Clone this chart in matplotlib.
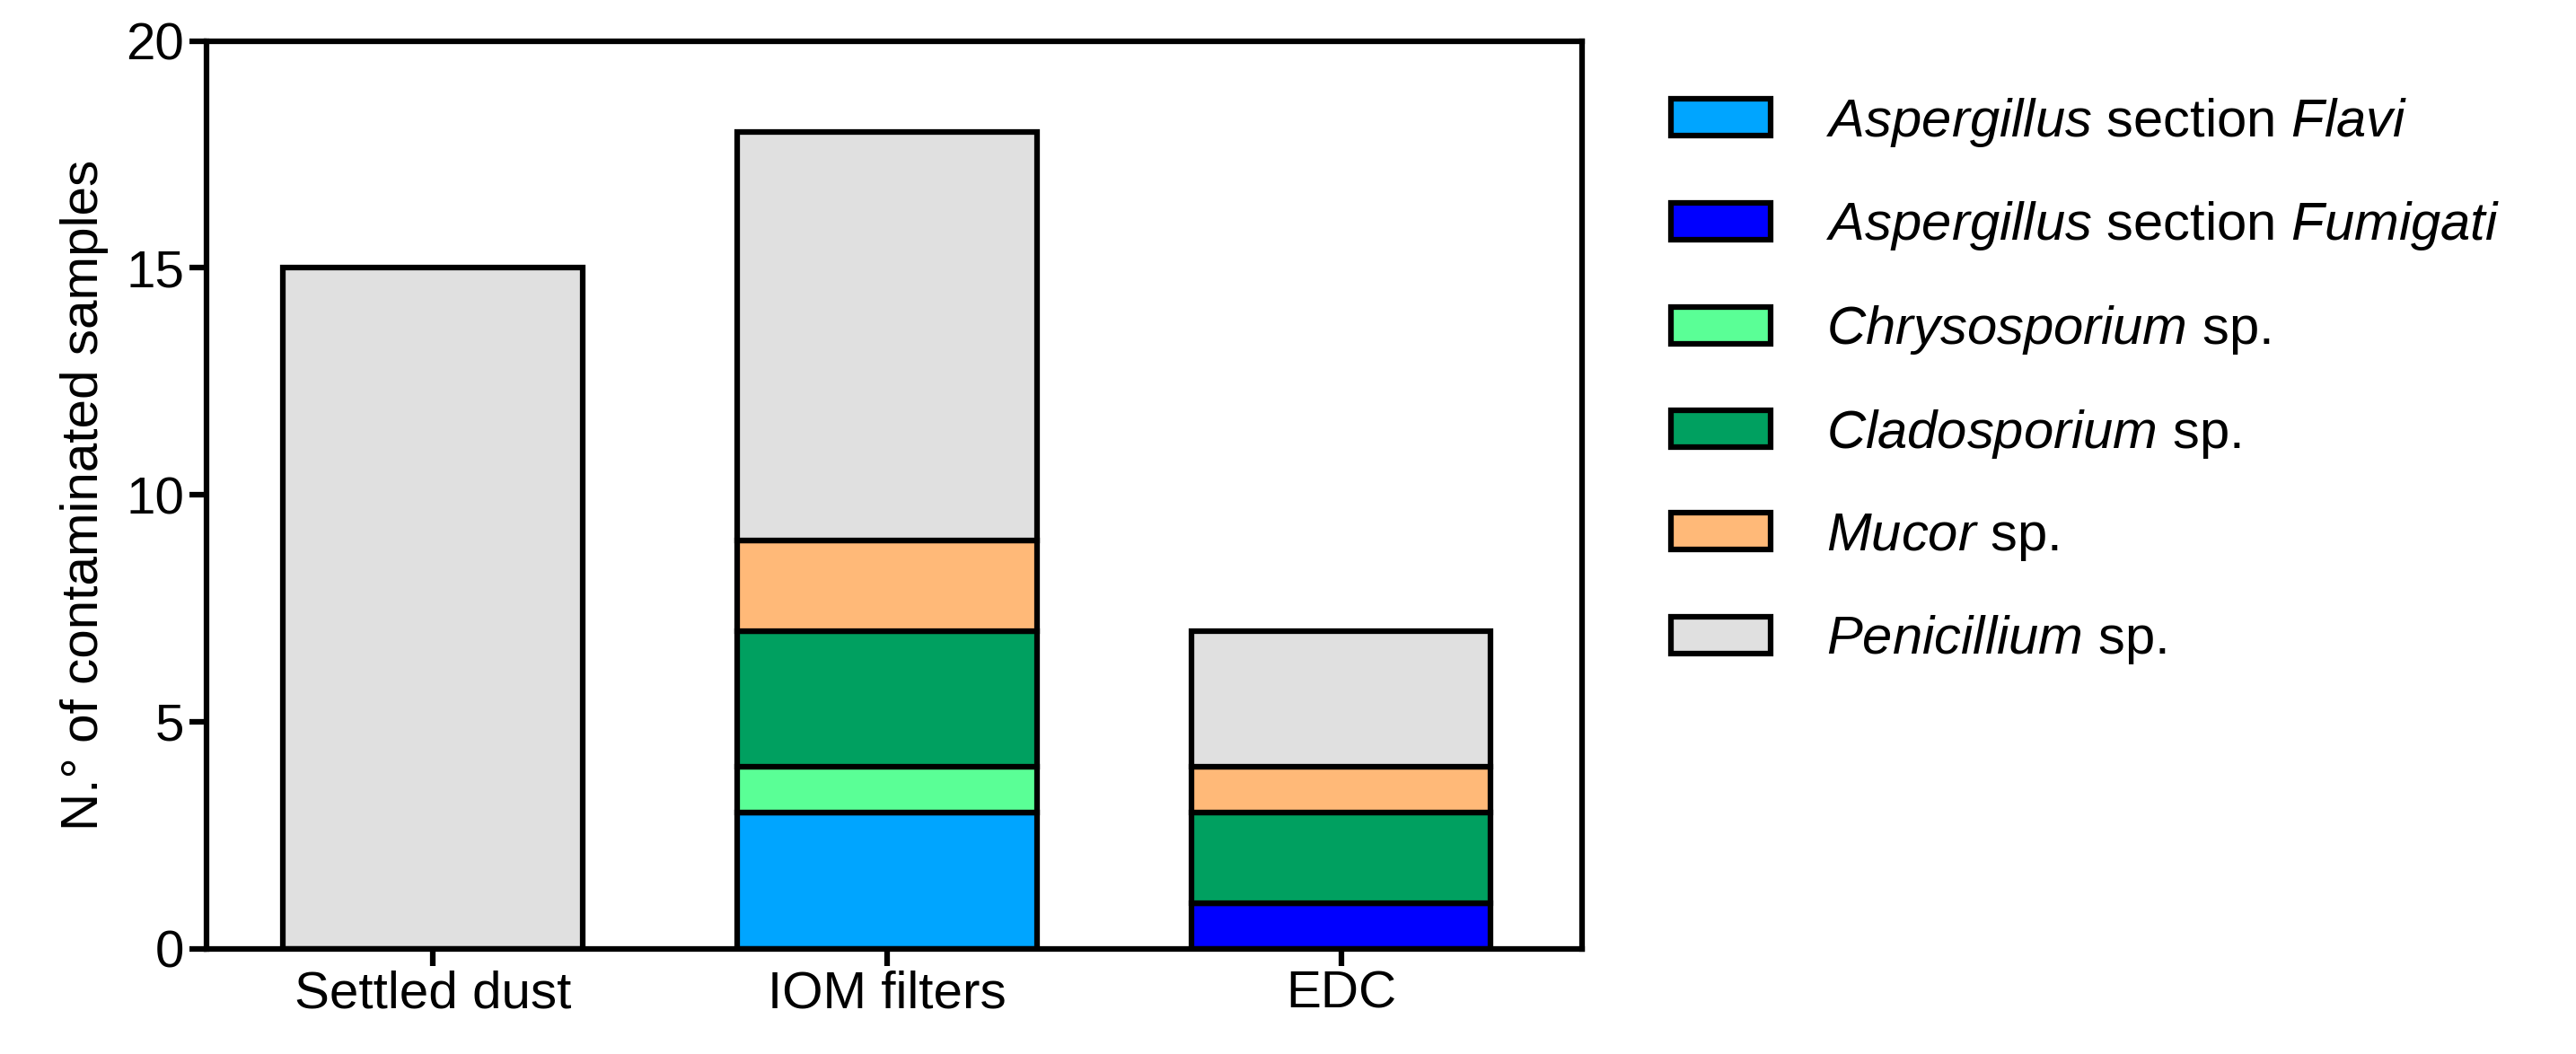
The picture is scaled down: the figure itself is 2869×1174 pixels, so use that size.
import matplotlib
matplotlib.use("Agg")
import matplotlib.pyplot as plt
import numpy as np

plt.rcParams['font.family'] = ['Liberation Sans', 'DejaVu Sans']
plt.rcParams['mathtext.fontset'] = 'custom'
plt.rcParams['mathtext.it'] = 'Liberation Sans:italic'
plt.rcParams['mathtext.rm'] = 'Liberation Sans'

categories = ["Settled dust", "IOM filters", "EDC"]
species = [r"$\it{Aspergillus}$ section $\it{Flavi}$",
           r"$\it{Aspergillus}$ section $\it{Fumigati}$",
           r"$\it{Chrysosporium}$ sp.",
           r"$\it{Cladosporium}$ sp.",
           r"$\it{Mucor}$ sp.",
           r"$\it{Penicillium}$ sp."]
flavi = [0, 3, 0]
fumigati = [0, 0, 1]
chryso = [0, 1, 0]
clado = [0, 3, 2]
mucor = [0, 2, 1]
penicillium = [15, 9, 3]
series = [flavi, fumigati, chryso, clado, mucor, penicillium]
colors = ["#00A5FF", "#0000FF", "#5AFF96", "#00A060", "#FFB978", "#E0E0E0"]

fig = plt.figure(figsize=(28.69, 11.74), dpi=100)
ax = fig.add_axes([0.080, 0.100, 0.534, 0.861])
x = np.arange(len(categories))
bottom = np.zeros(len(categories))
for vals, c, lab in zip(series, colors, species):
    v = np.array(vals, dtype=float)
    ax.bar(x, v, 0.66, bottom=bottom, color=c, edgecolor='black', linewidth=4.5, label=lab)
    bottom += v

ax.set_xlim(-0.5, 2.53)
ax.set_ylim(0, 20)
ax.set_yticks([0, 5, 10, 15, 20])
ax.set_xticks(x)
ax.set_xticklabels(categories)
ax.tick_params(labelsize=42, width=4.5, length=14)
for s in ax.spines.values():
    s.set_linewidth(4.5)
ax.set_ylabel("N.° of contaminated samples", fontsize=42, labelpad=14)

h, l = ax.get_legend_handles_labels()
fig.legend(h, l, loc='upper left', bbox_to_anchor=(0.630, 0.955), frameon=False,
           fontsize=43, handlelength=1.85, handleheight=0.68, labelspacing=0.95,
           handletextpad=1.05)
fig.savefig("out.png", dpi=100)
